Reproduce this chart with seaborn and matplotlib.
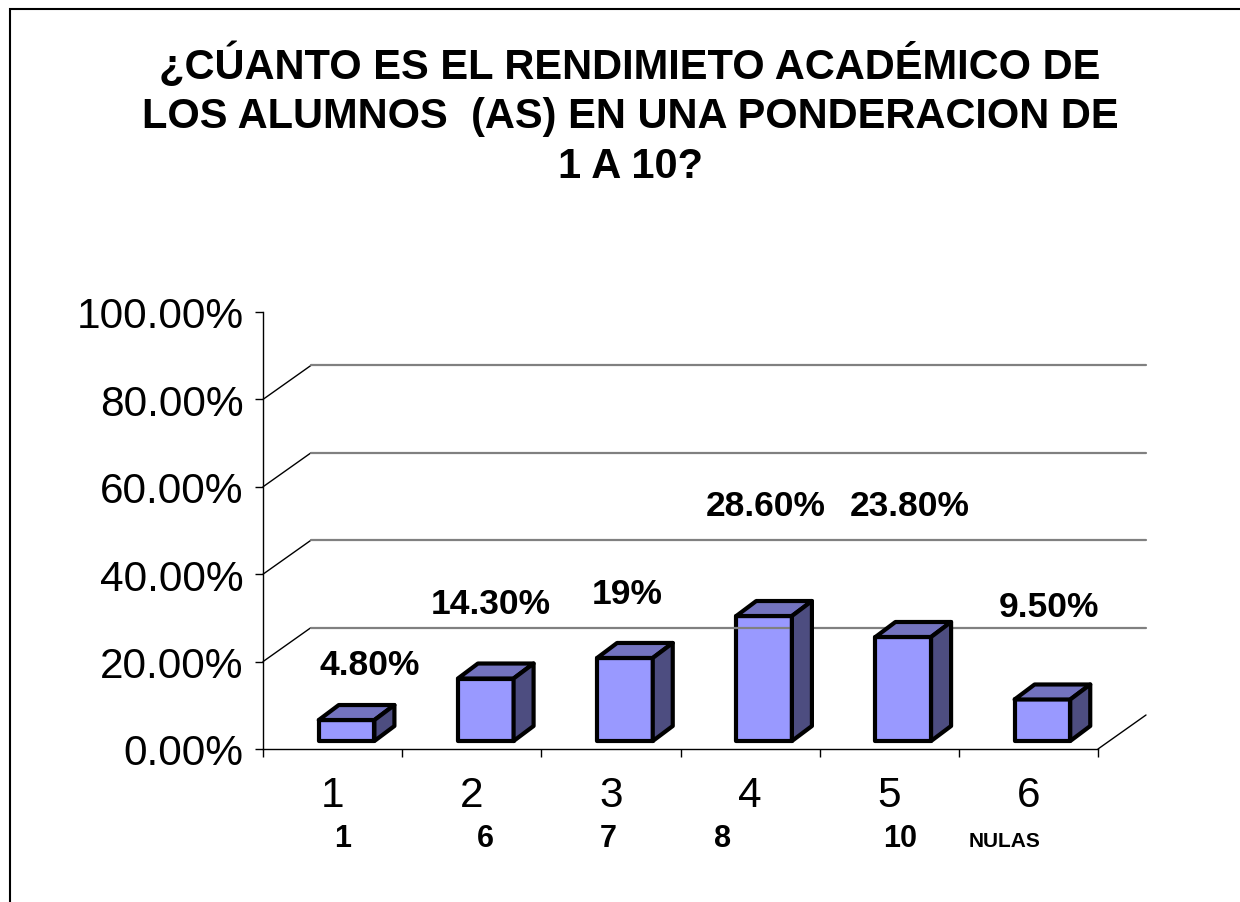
import matplotlib
matplotlib.use("Agg")
import numpy as np
import pandas as pd
import matplotlib.pyplot as plt
import seaborn as sns
from matplotlib.patches import Polygon, Rectangle
from matplotlib.lines import Line2D
from matplotlib.ticker import PercentFormatter
from matplotlib.transforms import IdentityTransform, ScaledTranslation

# data
categories = ["1", "2", "3", "4", "5", "6"]
grades = ["1", "6", "7", "8", "10", "NULAS"]
values = [0.048, 0.143, 0.19, 0.286, 0.238, 0.095]
value_labels = ["4.80%", "14.30%", "19%", "28.60%", "23.80%", "9.50%"]
title_lines = [
    "¿CÚANTO ES EL RENDIMIETO ACADÉMICO DE",
    "LOS ALUMNOS  (AS) EN UNA PONDERACION DE",
    "1 A 10?",
]

# hand placed labels in the original sheet (offsets in data units)
label_dx = [0.27, 0.14, 0.12, 0.11, 0.15, 0.15]
label_dy = [0.146, 0.190, 0.165, 0.272, 0.320, 0.232]
grade_dx = [0.07, 0.10, -0.02, -0.20, 0.08, -0.17]
grade_size = [22, 22, 22, 22, 22, 15]

# fake 3D offsets in pixels
FRONT = np.array([14, 8])
DEPTH = np.array([20, 15])
WALL = np.array([48, 34])

sns.set_style("white")
plt.rcParams["font.family"] = ["Liberation Sans", "DejaVu Sans"]
plt.rcParams["text.color"] = "black"

fig = plt.figure(figsize=(12.4, 9.03), dpi=100)
ax = fig.add_axes([263 / 1240, 1 - 750 / 903, 835 / 1240, 437 / 903])

df = pd.DataFrame({"cat": categories, "val": values})
sns.barplot(data=df, x="cat", y="val", color="#9999FF", saturation=1,
            width=0.4, edgecolor="black", linewidth=3, ax=ax, zorder=3)
ax.set_xlim(-0.5, 5.5)
ax.set_ylim(0, 1)
ax.set_xlabel("")
ax.set_ylabel("")

# back wall grid lines with the little diagonals from the axis
ident = IdentityTransform()
for y in [0.2, 0.4, 0.6, 0.8]:
    p0 = ax.transData.transform((-0.5, y))
    p1 = p0 + WALL
    p2 = ax.transData.transform((5.5, y)) + WALL
    fig.add_artist(Line2D([p0[0], p1[0]], [p0[1], p1[1]], transform=ident, color="black", lw=1))
    fig.add_artist(Line2D([p1[0], p2[0]], [p1[1], p2[1]], transform=ident, color="#808080", lw=1.6))
f0 = ax.transData.transform((5.5, 0))
f1 = f0 + WALL
fig.add_artist(Line2D([f0[0], f1[0]], [f0[1], f1[1]], transform=ident, color="black", lw=1))

# shift front faces and add top / side faces
shift = ScaledTranslation(FRONT[0] / 100, FRONT[1] / 100, fig.dpi_scale_trans)
for p in ax.patches:
    x0, w, h = p.get_x(), p.get_width(), p.get_height()
    a = ax.transData.transform((x0, h)) + FRONT
    b = ax.transData.transform((x0 + w, h)) + FRONT
    c = ax.transData.transform((x0 + w, 0)) + FRONT
    top = [a, b, b + DEPTH, a + DEPTH]
    side = [c, b, b + DEPTH, c + DEPTH]
    p.set_transform(ax.transData + shift)
    p.set_joinstyle("round")
    for verts, col in [(top, "#7373BF"), (side, "#4D4D80")]:
        fig.add_artist(Polygon(verts, closed=True, transform=ident, facecolor=col,
                               edgecolor="black", lw=3, joinstyle="round", zorder=3))

# value labels
for i, (v, lbl) in enumerate(zip(values, value_labels)):
    ax.text(i + label_dx[i], v + label_dy[i], lbl, ha="center", va="center",
            fontsize=25.5, fontweight="bold", color="black", zorder=5)

# axes styling
ax.set_yticks(np.arange(0, 1.01, 0.2))
ax.yaxis.set_major_formatter(PercentFormatter(1, decimals=2))
ax.set_xticks(np.arange(-0.5, 6, 1))
ax.set_xticklabels([])
ax.set_xticks(range(6), minor=True)
ax.set_xticklabels(categories, minor=True)
ax.tick_params(axis="y", left=True, length=6, width=1, color="black",
               labelsize=30.5, pad=8, labelcolor="black")
ax.tick_params(axis="x", which="major", bottom=True, length=6, width=1, color="black")
ax.tick_params(axis="x", which="minor", bottom=True, length=0, labelsize=30.5,
               pad=19, labelcolor="black")
for s in ["top", "right"]:
    ax.spines[s].set_visible(False)
for s in ["left", "bottom"]:
    ax.spines[s].set_color("black")
    ax.spines[s].set_linewidth(1)

# second row of category names
for i, g in enumerate(grades):
    ax.text(i + grade_dx[i], -0.222, g, transform=ax.get_xaxis_transform(),
            ha="center", va="baseline", fontsize=grade_size[i], fontweight="bold",
            color="black")

# title
for line, base in zip(title_lines, [79, 128, 178]):
    fig.text(630 / 1240, 1 - base / 903, line, ha="center", va="baseline",
             fontsize=30, fontweight="bold", color="black")

# outer frame (only top and left edges fall inside the picture)
fig.add_artist(Rectangle((10 / 1240, -1), 2, 2 - 10 / 903, transform=fig.transFigure,
                         fill=False, edgecolor="black", lw=1.5))

fig.savefig("out.png", dpi=100)
